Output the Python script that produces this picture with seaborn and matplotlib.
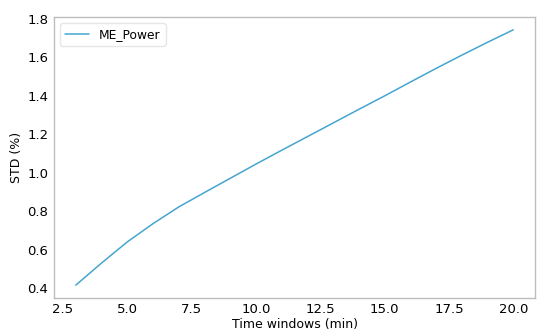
import matplotlib
matplotlib.use("Agg")
import matplotlib.pyplot as plt
import seaborn as sns
import pandas as pd

time_windows = [3, 4, 5, 6, 7, 8, 9, 10, 11, 12, 13, 14, 15, 16, 17, 18, 19, 20]
std_values = [0.415, 0.530, 0.640, 0.735, 0.822, 0.897, 0.971, 1.045, 1.117, 1.188,
              1.259, 1.330, 1.400, 1.472, 1.543, 1.612, 1.679, 1.744]
series_name = "ME_Power"

df = pd.DataFrame({"Time windows (min)": time_windows, "STD (%)": std_values,
                   "series": series_name})

sns.set_style("white")
plt.rcParams["font.family"] = ["DejaVu Sans"]
plt.rcParams["text.color"] = "black"
plt.rcParams["axes.labelcolor"] = "black"
plt.rcParams["xtick.color"] = "black"
plt.rcParams["ytick.color"] = "black"

fig = plt.figure(figsize=(5.5, 3.34), dpi=100)
ax = fig.add_axes([0.098, 0.108, 0.875, 0.841])
sns.lineplot(data=df, x="Time windows (min)", y="STD (%)", hue="series",
             palette=["#45a5d0"], linewidth=1.1, ax=ax)

for s in ax.spines.values():
    s.set_color("#bdbdbd")
    s.set_linewidth(1.0)
ax.tick_params(axis="both", labelsize=9.5, length=2, color="#bdbdbd", pad=2,
               labelcolor="black")
ax.set_xlabel("Time windows (min)", fontsize=9, labelpad=1, color="black")
ax.set_ylabel("STD (%)", fontsize=9, labelpad=3, color="black")
ax.set_yticks([0.4, 0.6, 0.8, 1.0, 1.2, 1.4, 1.6, 1.8])
leg = ax.legend(loc="upper left", fontsize=8.8, frameon=True, handlelength=2.0)
leg.get_frame().set_edgecolor("#e0e0e0")
for t in leg.get_texts():
    t.set_color("black")

fig.savefig("out.png", dpi=100)
